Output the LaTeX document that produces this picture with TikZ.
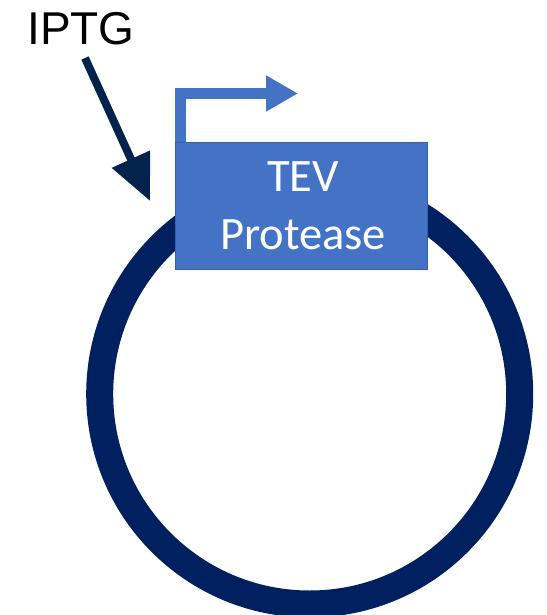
\documentclass[tikz,border=0pt]{standalone}
\usepackage{fontspec}
\setmainfont{Liberation Sans}
\newfontfamily\calfont{Carlito}
\usetikzlibrary{arrows.meta}
\definecolor{ringnavy}{HTML}{002060}
\definecolor{arrownavy}{HTML}{03224C}
\definecolor{genefill}{HTML}{4472C4}
\definecolor{geneedge}{HTML}{3560A8}
\tikzset{
  plasmid/.style={draw=ringnavy, line width=27pt},
  genebox/.style={fill=genefill, draw=geneedge, line width=1pt},
  promoter/.style={draw=genefill, line width=11pt, line join=miter,
    -{Triangle[length=32pt,width=34pt]}},
  inducer/.style={draw=arrownavy, line width=8pt,
    -{Triangle[length=46pt,width=40pt]}},
  label/.style={font=\fontsize{46}{50}\selectfont, inner sep=0pt},
  genetext/.style={font=\calfont\fontsize{46.5}{58}\selectfont, text=white,
    align=center, inner sep=0pt},
}
\begin{document}
\begin{tikzpicture}[x=1pt,y=-1pt]
  \useasboundingbox (0,0) rectangle (546,615);
  % plasmid backbone
  \draw[plasmid] (309.7,394) circle[radius=210];
  % gene block
  \node[genebox, minimum width=252pt, minimum height=127pt, inner sep=0pt,
        anchor=north west] (gene) at (175,142) {};
  \node[genetext] (genelabel) at (303,206) {TEV\\Protease};
  % promoter arrow
  \coordinate (pstart) at (180.5,142);
  \coordinate (pcorner) at (180.5,93.5);
  \coordinate (pend) at (298,93.5);
  \draw[promoter] (pstart) -- (pcorner) -- (pend);
  % inducer
  \node[label] (iptg) at (81,29) {IPTG};
  \coordinate (istart) at (85,58);
  \coordinate (iend) at (150,201);
  \draw[inducer] (istart) -- (iend);
\end{tikzpicture}
\end{document}
